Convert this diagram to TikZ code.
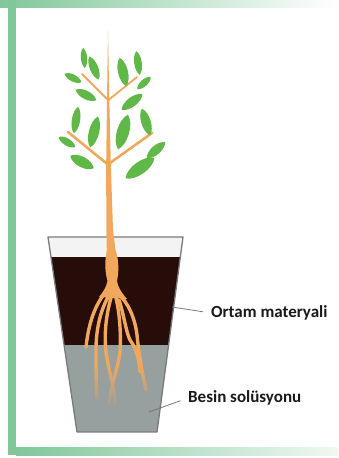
\documentclass[tikz,border=0pt]{standalone}
\usepackage{fontspec}
\setmainfont{Carlito}
\usetikzlibrary{fadings}

\definecolor{framegreen}{RGB}{128,199,153}
\definecolor{stemorange}{RGB}{241,168,92}
\definecolor{leafgreen}{RGB}{96,184,72}
\definecolor{soil}{RGB}{38,13,9}
\definecolor{solution}{RGB}{150,160,158}
\definecolor{rim}{RGB}{243,243,243}
\definecolor{potline}{RGB}{122,122,122}

\tikzset{
  rootline/.style={draw=stemorange,line width=3.4pt,line cap=round,line join=round},
  twig/.style={draw=stemorange,line cap=round},
  lbl/.style={font=\fontsize{17}{19}\selectfont\bfseries,text=black!90,inner sep=0pt},
  pointer/.style={draw=potline,line width=0.8pt,shorten >=8pt}
}
\tikzfading[name=rootfade,top color=transparent!100,bottom color=transparent!0]

% leaf: centre x, y, angle, half length, half width
\newcommand\leaf[5]{\fill[leafgreen,shift={(#1,#2)},rotate=#3]
  (-#4,0) .. controls (-#4*0.6,#5*1.33) and (#4*0.6,#5*1.33) .. (#4,0)
  .. controls (#4*0.6,-#5*1.33) and (-#4*0.6,-#5*1.33) .. cycle;}

\begin{document}
\begin{tikzpicture}[x=1pt,y=-1pt]
  \useasboundingbox (0,0) rectangle (338,458);

  % frame
  \shade[left color=framegreen,right color=white] (0,0) rectangle (338,7);
  \fill[framegreen] (8,0) rectangle (16,455);
  \shade[left color=framegreen,right color=framegreen!12] (16,447) rectangle (338,455);

  % pot
  \coordinate (potTL) at (48,237);
  \coordinate (potTR) at (183,237);
  \coordinate (potBR) at (157,432);
  \coordinate (potBL) at (77,432);
  \begin{scope}
    \clip (potTL) -- (potTR) -- (potBR) -- (potBL) -- cycle;
    \fill[rim] (40,237) rectangle (190,257);
    \fill[soil] (40,257) rectangle (190,345);
    \fill[solution] (40,345) rectangle (190,432);

    % roots
    \draw[rootline] (104,294) .. controls (96,305) and (89,320) .. (86,347);
    \draw[rootline] (108,297) .. controls (100,312) and (96,330) .. (96,350)
      .. controls (96,370) and (96,385) .. (97,398);
    \draw[rootline] (111,298) .. controls (106,315) and (104,335) .. (106,352)
      .. controls (108,368) and (114,385) .. (115,404);
    \draw[rootline] (116,298) .. controls (120,315) and (121,335) .. (120,352)
      .. controls (118,368) and (111,385) .. (109,404);
    \draw[rootline] (118,294) .. controls (128,302) and (135,318) .. (137,335)
      .. controls (139,355) and (142,372) .. (146,390);
    \draw[rootline] (119,300) .. controls (124,315) and (126,332) .. (130,340)
      .. controls (136,348) and (139,358) .. (140,372);
    \fill[solution,path fading=rootfade] (40,365) rectangle (190,410);
  \end{scope}
  \draw[potline,line width=1.3pt,line join=round]
    (potTL) -- (potTR) -- (potBR) -- (potBL) -- cycle;

  % stem and root crown
  \fill[stemorange] (108,30) -- (109.3,100) -- (110.8,163) -- (113,230) -- (115.5,250)
    .. controls (119,260) and (119,272) .. (117,281)
    .. controls (118,287) and (121,292) .. (127,299) -- (99,297)
    .. controls (103,292) and (106,288) .. (107.5,281)
    .. controls (105,272) and (104.5,262) .. (106.8,250) -- (106.3,230)
    -- (106.2,163) -- (107,100) -- cycle;

  % branches
  \draw[twig,line width=2.6pt] (108.5,165) -- (68,132);
  \draw[twig,line width=2.6pt] (110,163) -- (152,133);
  \draw[twig,line width=1.8pt] (108,100) -- (82,74);
  \draw[twig,line width=1.8pt] (108.5,100) -- (137,77);

  % leaves
  \leaf{84}{58}{-85}{10}{3.2}
  \leaf{94}{68}{-68}{12.5}{4.2}
  \leaf{73}{78}{-27}{9.4}{3.5}
  \leaf{86}{95}{-27}{11.6}{4.3}
  \leaf{123}{72}{-77}{14.5}{5}
  \leaf{138}{63}{-82}{12}{3.8}
  \leaf{144}{83}{42}{9}{3.4}
  \leaf{132}{102}{37}{13}{4.7}
  \leaf{76}{120}{81}{13.5}{4.2}
  \leaf{94}{132}{76}{16}{5.2}
  \leaf{67}{142}{-31}{9.7}{3.6}
  \leaf{82}{162}{-28}{13.3}{5.2}
  \leaf{123}{132}{74}{18}{6.2}
  \leaf{146}{122}{-73}{14}{4.8}
  \leaf{156}{150}{40.5}{12}{4.5}
  \leaf{140}{168}{35.5}{17.8}{6.2}

  % labels
  \node[lbl,anchor=west] (ortam) at (211,313) {Ortam materyali};
  \node[lbl,anchor=west] (besin) at (188,398) {Besin solüsyonu};
  \coordinate (soilpt) at (172,307);
  \coordinate (solpt) at (149,412);
  \draw[pointer] (soilpt) -- (ortam.west);
  \draw[pointer] (solpt) -- (besin.west);
\end{tikzpicture}
\end{document}
